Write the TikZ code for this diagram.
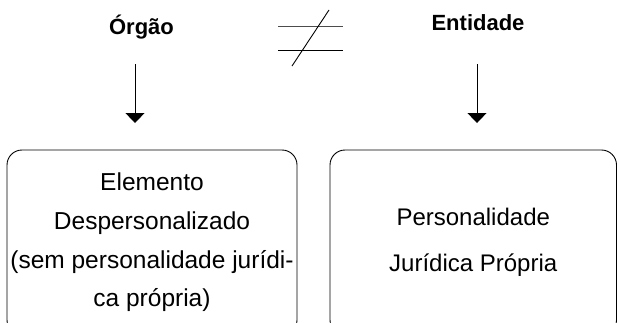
\documentclass[tikz,border=0pt]{standalone}
\usepackage{fontspec}
\setmainfont{Liberation Sans}
\usetikzlibrary{arrows.meta}

\tikzset{
  titulo/.style={font=\fontsize{22}{26}\selectfont\bfseries},
  caixa/.style={draw, line width=0.9pt, rounded corners=15pt, align=center},
  seta/.style={line width=1pt, -{Triangle[width=19pt,length=10pt]}}
}

\begin{document}
\begin{tikzpicture}[x=1pt,y=-1pt]
    \useasboundingbox (0,0) rectangle (617,322);
    \clip (0,0) rectangle (617,322);
    % Titles
    \node[titulo, anchor=base] (orgao) at (141.5,34.5) {Órgão};
    \node[titulo, anchor=base] (entidade) at (478,30) {Entidade};
    % Not equal
    \draw[line width=1.2pt, black!70] (278,26.7) -- (343,26.7);
    \draw[line width=1pt] (278,50.7) -- (343,50.7);
    \draw[line width=0.9pt] (292,66) -- (329,10);
    % Arrows
    \coordinate (o1) at (135,64);
    \coordinate (o2) at (135,123);
    \coordinate (e1) at (477,64);
    \coordinate (e2) at (477,123);
    \draw[seta] (o1) -- (o2);
    \draw[seta] (e1) -- (e2);
    % Boxes
    \node[caixa, minimum width=290pt, minimum height=185pt,
          font=\fontsize{24.5}{38.7}\selectfont] (elemento) at (152,242.5)
          {Elemento\\Despersonalizado\\(sem personalidade jurídi-\\ca própria)};
    \node[caixa, minimum width=286.5pt, minimum height=185pt,
          font=\fontsize{24}{46}\selectfont] (personalidade) at (473.25,242.5)
          {Personalidade\\Jurídica Própria};
\end{tikzpicture}
\end{document}
